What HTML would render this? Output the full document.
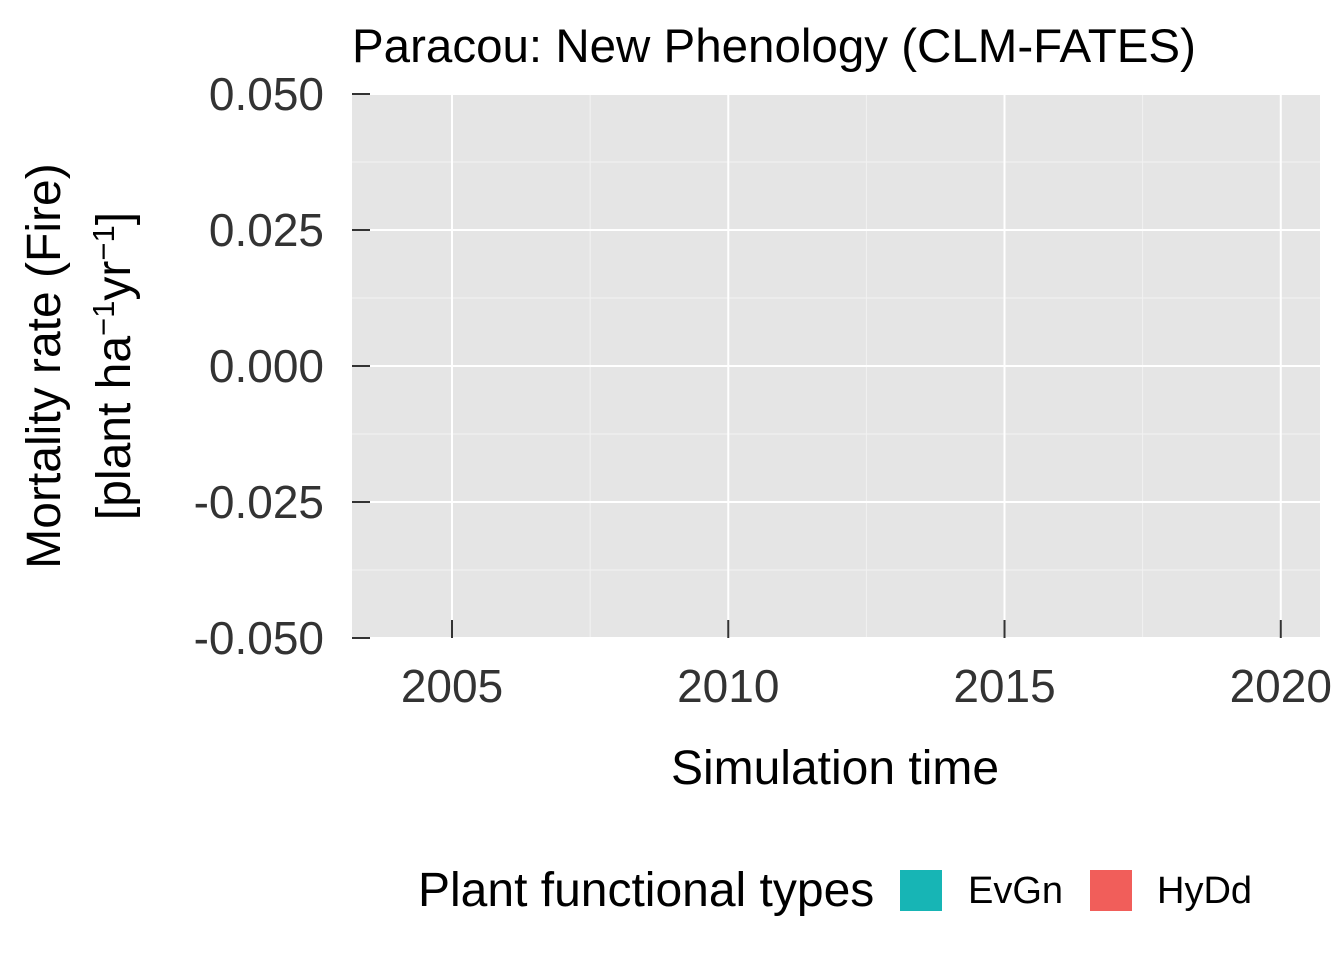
<!DOCTYPE html>
<html><head><meta charset="utf-8">
<style>
body{margin:0;background:#fff;}
svg{display:block;font-family:"Liberation Sans",Arial,sans-serif;}
</style></head>
<body>
<svg id="chart" width="1344" height="960" xmlns="http://www.w3.org/2000/svg">
<text x="352" y="62" font-size="47.5" fill="#000">Paracou: New Phenology (CLM-FATES)</text>
<rect x="352" y="94" width="968" height="544" fill="#e5e5e5"/>
<g id="grid"></g>
<g id="axes"></g>
<text x="835" y="784" font-size="48" text-anchor="middle" fill="#000">Simulation time</text>
<g transform="translate(60,366) rotate(-90)">
<text x="0" y="0" font-size="48" text-anchor="middle" fill="#000">Mortality rate (Fire)</text>
<text x="0" y="70" font-size="48" text-anchor="middle" fill="#000">[plant ha<tspan dy="-16" font-size="31">−1</tspan><tspan dy="16">yr</tspan><tspan dy="-16" font-size="31">−1</tspan><tspan dy="16">]</tspan></text>
</g>
<g>
<text x="418" y="906" font-size="48" fill="#000">Plant functional types</text>
<rect x="899" y="869" width="44" height="43" fill="#17b5b5" stroke="#fff" stroke-width="2"/>
<text x="968" y="903" font-size="38" fill="#000">EvGn</text>
<rect x="1089" y="869" width="44" height="43" fill="#f15e5a" stroke="#fff" stroke-width="2"/>
<text x="1157" y="903" font-size="38" fill="#000">HyDd</text>
</g>
</svg>
<script>
const yTicks=[0.05,0.025,0,-0.025,-0.05];
const yLabels=["0.050","0.025","0.000","-0.025","-0.050"];
const xTicks=[2005,2010,2015,2020];
const xLabels=["2005","2010","2015","2020"];
const evgnYears=[];
const evgnValues=[];
const hyddYears=[];
const hyddValues=[];
const NS="http://www.w3.org/2000/svg";
const L=352,R=1320,T=94,B=638;
const xMin=2003.19,xMax=2020.71,yMin=-0.05,yMax=0.05;
function sx(v){return L+(v-xMin)/(xMax-xMin)*(R-L);}
function sy(v){return B-(v-yMin)/(yMax-yMin)*(B-T);}
const grid=document.getElementById('grid'),axes=document.getElementById('axes');
function mk(tag,attrs,parent){const e=document.createElementNS(NS,tag);for(const k in attrs)e.setAttribute(k,attrs[k]);parent.appendChild(e);return e;}
for(let i=0;i<yTicks.length-1;i++){const m=(yTicks[i]+yTicks[i+1])/2;
const g=mk('line',{x1:L,x2:R,y1:sy(m),y2:sy(m),stroke:'#f2f2f2','stroke-width':1},grid);

}
for(let i=0;i<xTicks.length-1;i++){const m=(xTicks[i]+xTicks[i+1])/2;
const g=mk('line',{x1:sx(m),x2:sx(m),y1:T,y2:B,stroke:'#f2f2f2','stroke-width':1},grid);

}
yTicks.forEach((v,i)=>{const y=sy(v);
const g=mk('line',{x1:L,x2:R,y1:y,y2:y,stroke:'#fff','stroke-width':2},grid);


const t=mk('line',{x1:L,x2:L+18,y1:y,y2:y,stroke:'#333','stroke-width':2},axes);


const tx=mk('text',{x:324,y:y+16,'font-size':46,'text-anchor':'end',fill:'#333'},axes);tx.textContent=yLabels[i];

});
xTicks.forEach((v,i)=>{const x=sx(v);
const g=mk('line',{x1:x,x2:x,y1:T,y2:B,stroke:'#fff','stroke-width':2},grid);


const t=mk('line',{x1:x,x2:x,y1:B-18,y2:B,stroke:'#333','stroke-width':2},axes);


const tx=mk('text',{x:x,y:702,'font-size':46,'text-anchor':'middle',fill:'#333'},axes);tx.textContent=xLabels[i];

});
function series(xs,ys,color,name){if(!xs.length)return;
const p=mk('polyline',{points:xs.map((x,i)=>sx(x)+','+sy(ys[i])).join(' '),fill:'none',stroke:color,'stroke-width':2},axes);

}
series(evgnYears,evgnValues,'#17b5b5','evgn-line');
series(hyddYears,hyddValues,'#f15e5a','hydd-line');
</script>
</body></html>
